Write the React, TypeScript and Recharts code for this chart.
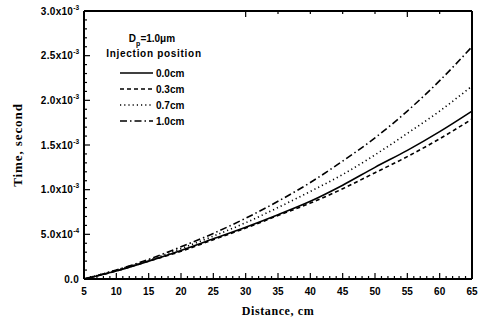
import React from 'react';
import { LineChart, Line, XAxis, YAxis, Legend } from 'recharts';

// distance along the channel, cm
const distance = [5, 10, 15, 20, 25, 30, 35, 40, 45, 50, 55, 60, 65];

// travel time, seconds, for each injection position
const time00 = [0, 0.09e-3, 0.2e-3, 0.32e-3, 0.45e-3, 0.58e-3, 0.72e-3, 0.87e-3, 1.05e-3, 1.25e-3, 1.44e-3, 1.65e-3, 1.88e-3];
const time03 = [0, 0.09e-3, 0.2e-3, 0.31e-3, 0.44e-3, 0.57e-3, 0.71e-3, 0.85e-3, 1.01e-3, 1.19e-3, 1.37e-3, 1.57e-3, 1.79e-3];
const time07 = [0, 0.1e-3, 0.21e-3, 0.34e-3, 0.48e-3, 0.63e-3, 0.8e-3, 0.98e-3, 1.17e-3, 1.39e-3, 1.63e-3, 1.88e-3, 2.16e-3];
const time10 = [0, 0.1e-3, 0.22e-3, 0.36e-3, 0.51e-3, 0.68e-3, 0.87e-3, 1.08e-3, 1.32e-3, 1.58e-3, 1.88e-3, 2.22e-3, 2.6e-3];

const seriesLabels = ['0.0cm', '0.3cm', '0.7cm', '1.0cm'];
const seriesKeys = ['t00', 't03', 't07', 't10'];
const seriesDash = [undefined, '4 3', '1.2 3', '7 3 1.5 3'];

// every 1 cm on x (majors every 5), every 1e-4 s on y (majors every 5e-4)
const xTicks = Array.from({ length: 61 }, (_, i) => 5 + i);
const yTicks = Array.from({ length: 31 }, (_, i) => i * 1e-4);

const data = distance.map((d, i) => ({
  d,
  t00: time00[i],
  t03: time03[i],
  t07: time07[i],
  t10: time10[i],
}));

const INK = '#000';
const tickFont = '"Liberation Sans", Arial, sans-serif';
const titleFont = '"Liberation Serif", "Times New Roman", serif';

const isMajorX = (v: number) => v % 5 === 0;
const isMajorY = (v: number) => Math.round(v * 1e4) % 5 === 0;

const formatY = (v: number) => {
  if (Math.abs(v) < 1e-12) return { base: '0.0', exp: '' };
  const exp = Math.floor(Math.log10(v) + 1e-9);
  const mant = v / Math.pow(10, exp);
  return { base: `${mant.toFixed(1)}x10`, exp: `${exp}` };
};

const BottomTick = ({ x, y, payload }: any) => {
  const major = isMajorX(payload.value);
  return (
    <g>
      <line x1={x} x2={x} y1={y} y2={y - (major ? 6 : 3)} stroke={INK} strokeWidth={1.2} />
      {major && (
        <text x={x} y={y + 16} textAnchor="middle" fontFamily={tickFont} fontWeight="bold" fontSize={10} fill={INK}>
          {payload.value}
        </text>
      )}
    </g>
  );
};

const TopTick = ({ x, y, payload }: any) => {
  const major = isMajorX(payload.value);
  return <line x1={x} x2={x} y1={y} y2={y + (major ? 6 : 3)} stroke={INK} strokeWidth={1.2} />;
};

const LeftTick = ({ x, y, payload }: any) => {
  const major = isMajorY(payload.value);
  const lab = formatY(payload.value);
  return (
    <g>
      <line x1={x} x2={x + (major ? 6 : 3)} y1={y} y2={y} stroke={INK} strokeWidth={1.2} />
      {major && (
        <text x={x - 5} y={y + 3.5} textAnchor="end" fontFamily={tickFont} fontWeight="bold" fontSize={10} letterSpacing={0.3} fill={INK}>
          <tspan>{lab.base}</tspan>
          {lab.exp && (
            <tspan dy={-5} fontSize={6.5} letterSpacing={0}>
              {lab.exp}
            </tspan>
          )}
        </text>
      )}
    </g>
  );
};

const RightTick = ({ x, y, payload }: any) => {
  const major = isMajorY(payload.value);
  return <line x1={x} x2={x - (major ? 6 : 3)} y1={y} y2={y} stroke={INK} strokeWidth={1.2} />;
};

const LegendBox = () => (
  <svg width={130} height={100} style={{ overflow: 'visible' }}>
    <text x={52} y={14} textAnchor="middle" fontFamily={tickFont} fontWeight="bold" fontSize={10} fill={INK}>
      D<tspan dy={4} fontSize={7}>p</tspan>
      <tspan dy={-4}>=1.0μm</tspan>
    </text>
    <text x={54} y={29} textAnchor="middle" fontFamily={tickFont} fontWeight="bold" fontSize={10} letterSpacing={0.7} fill={INK}>
      Injection position
    </text>
    {seriesLabels.map((label, i) => (
      <g key={label}>
        <line x1={20} x2={53} y1={45 + i * 16} y2={45 + i * 16} stroke={INK} strokeWidth={1.4} strokeDasharray={seriesDash[i]} />
        <text x={56} y={48.5 + i * 16} fontFamily={tickFont} fontWeight="bold" fontSize={10} fill={INK}>
          {label}
        </text>
      </g>
    ))}
  </svg>
);

export default function App() {
  return (
    <div style={{ position: 'absolute', left: 0, top: 0, width: 484, height: 322, background: '#fff' }}>
      <LineChart width={484} height={322} data={data} margin={{ top: 10, right: 11, bottom: 42, left: 83 }}>
        <XAxis
          xAxisId="bottom"
          dataKey="d"
          type="number"
          domain={[5, 65]}
          ticks={xTicks}
          interval={0}
          height={1}
          tickSize={0}
          tickMargin={0}
          tickLine={false}
          tick={<BottomTick />}
          axisLine={{ stroke: INK, strokeWidth: 2 }}
          label={{
            value: 'Distance, cm',
            position: 'bottom',
            offset: 26,
            style: { fontFamily: titleFont, fontWeight: 'bold', fontSize: 12, letterSpacing: 0.6, fill: INK },
          }}
        />
        <XAxis
          xAxisId="top"
          orientation="top"
          type="number"
          domain={[5, 65]}
          ticks={xTicks}
          interval={0}
          height={1}
          tickSize={0}
          tickMargin={0}
          tickLine={false}
          tick={<TopTick />}
          axisLine={{ stroke: INK, strokeWidth: 2 }}
        />
        <YAxis
          yAxisId="left"
          type="number"
          domain={[0, 0.003]}
          ticks={yTicks}
          interval={0}
          width={1}
          tickSize={0}
          tickMargin={0}
          tickLine={false}
          tick={<LeftTick />}
          axisLine={{ stroke: INK, strokeWidth: 2 }}
          label={{
            value: 'Time, second',
            angle: -90,
            position: 'left',
            offset: 66,
            style: { textAnchor: 'middle', fontFamily: titleFont, fontWeight: 'bold', fontSize: 13, letterSpacing: 0.9, fill: INK },
          }}
        />
        <YAxis
          yAxisId="right"
          orientation="right"
          type="number"
          domain={[0, 0.003]}
          ticks={yTicks}
          interval={0}
          width={1}
          tickSize={0}
          tickMargin={0}
          tickLine={false}
          tick={<RightTick />}
          axisLine={{ stroke: INK, strokeWidth: 2 }}
        />
        <Legend
          layout="vertical"
          verticalAlign="middle"
          align="center"
          content={() => <LegendBox />}
          wrapperStyle={{ left: 100, top: 28, width: 130, height: 100 }}
        />
        {seriesKeys.map((k, i) => (
          <Line
            key={k}
            xAxisId="bottom"
            yAxisId="left"
            type="monotone"
            dataKey={k}
            name={seriesLabels[i]}
            stroke={INK}
            strokeWidth={1.6}
            strokeDasharray={seriesDash[i]}
            dot={false}
            isAnimationActive={false}
          />
        ))}
      </LineChart>
    </div>
  );
}
